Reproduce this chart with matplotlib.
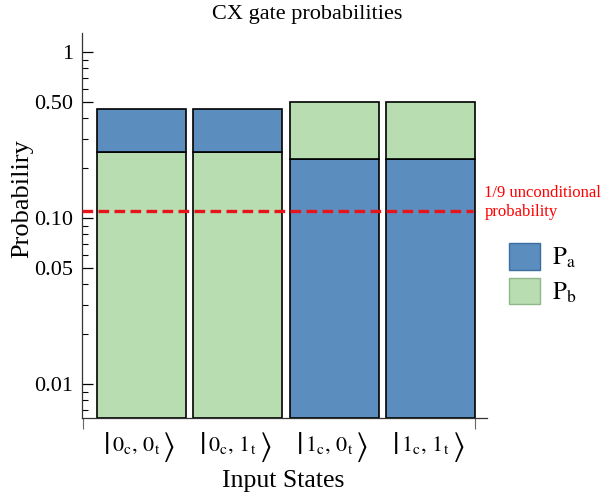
import matplotlib
matplotlib.use("Agg")
import matplotlib.pyplot as plt
from matplotlib.patches import Patch
import numpy as np

plt.rcParams['font.family'] = ['Liberation Serif', 'DejaVu Serif']
plt.rcParams['mathtext.fontset'] = 'stix'

states = [r"$0_{\mathrm{c}},\,0_{\mathrm{t}}$",
          r"$0_{\mathrm{c}},\,1_{\mathrm{t}}$",
          r"$1_{\mathrm{c}},\,0_{\mathrm{t}}$",
          r"$1_{\mathrm{c}},\,1_{\mathrm{t}}$"]
p_a = [0.20, 0.20, 0.227, 0.227]
p_b = [0.252, 0.252, 0.277, 0.277]
threshold = 1/9

blue = '#5b8ebf'
green = '#b8ddb1'

fig = plt.figure(figsize=(6.06, 5.0), dpi=100)
ax = fig.add_axes([0.135, 0.1646, 0.669, 0.77])
x = np.arange(len(states))
ymin = 0.0063
for i in range(len(states)):
    if i < 2:
        bot, top, cb, ct = p_b[i], p_a[i], green, blue
    else:
        bot, top, cb, ct = p_a[i], p_b[i], blue, green
    ax.bar(x[i], bot - ymin, bottom=ymin, width=0.92, color=cb, edgecolor='black', linewidth=1.2, zorder=2)
    ax.bar(x[i], top, bottom=bot, width=0.92, color=ct, edgecolor='black', linewidth=1.2, zorder=2)

ax.axhline(threshold, xmin=0, xmax=0.965, color='#e8141b', linestyle=(0, (3.2, 1.6)), linewidth=2.4, zorder=3)
ax.annotate("1/9 unconditional\nprobability", xy=(0.993, threshold), xycoords=ax.get_yaxis_transform(),
            xytext=(0, 8), textcoords='offset pixels',
            color='red', fontsize=12, va='center', ha='left', linespacing=1.2, annotation_clip=False)

ax.set_yscale('log')
ax.set_ylim(ymin, 1.31)
ax.set_xlim(-0.615, 3.586)
ax.set_yticks([0.01, 0.05, 0.1, 0.5, 1])
ax.set_yticklabels(['0.01', '0.05', '0.10', '0.50', '1'])
ax.yaxis.set_minor_locator(matplotlib.ticker.LogLocator(base=10, subs=np.arange(2, 10)))
ax.yaxis.set_minor_formatter(matplotlib.ticker.NullFormatter())
ax.tick_params(axis='y', which='major', direction='in', length=8, width=0.9, labelsize=16, pad=6)
ax.tick_params(axis='y', which='minor', direction='in', length=4.5, width=0.8)

ax.set_xticks(x)
ax.set_xticklabels([''] * len(states))
ax.tick_params(axis='x', which='major', length=0)
ax.set_xticks([-0.6, 3.46], minor=True)
ax.tick_params(axis='x', which='minor', direction='out', length=8, width=0.8, color='#666666')

# ket-style tick labels
xt = ax.get_xaxis_transform()
for i, lab in enumerate(states):
    c = ax.annotate(lab, xy=(x[i], 0), xycoords=xt, xytext=(-5, -28), textcoords='offset pixels',
                    ha='center', va='center', fontsize=16, annotation_clip=False)
    ax.annotate(r"$|$", xy=(0, 0.45), xycoords=c, xytext=(-3, 0), textcoords='offset pixels',
                ha='right', va='center', fontsize=23, annotation_clip=False)
    ax.annotate(r"$\rangle$", xy=(1, 0.45), xycoords=c, xytext=(2, 0), textcoords='offset pixels',
                ha='left', va='center', fontsize=23, annotation_clip=False)

for s in ['top', 'right']:
    ax.spines[s].set_visible(False)
for s in ['left', 'bottom']:
    ax.spines[s].set_linewidth(0.9)
    ax.spines[s].set_color('#333333')

ax.set_ylabel("Probabiliry", fontsize=19)
ax.yaxis.set_label_coords(-0.12, 0.57)
fig.text(0.467, 0.038, "Input States", ha='center', va='center', fontsize=18.5)
fig.text(0.507, 0.97, "CX gate probabilities", ha='center', va='center', fontsize=16)

handles = [Patch(facecolor=blue, edgecolor='#3a6f9f', label=r"$\mathrm{P}_{\mathrm{a}}$"),
           Patch(facecolor=green, edgecolor='#8fb88a', label=r"$\mathrm{P}_{\mathrm{b}}$")]
fig.legend(handles=handles, loc='upper left', bbox_to_anchor=(0.82, 0.538), frameon=False, borderpad=0,
           fontsize=18, handlelength=1.24, handleheight=1.24, labelspacing=0.3, handletextpad=0.45)

fig.savefig("out.png", dpi=100)
